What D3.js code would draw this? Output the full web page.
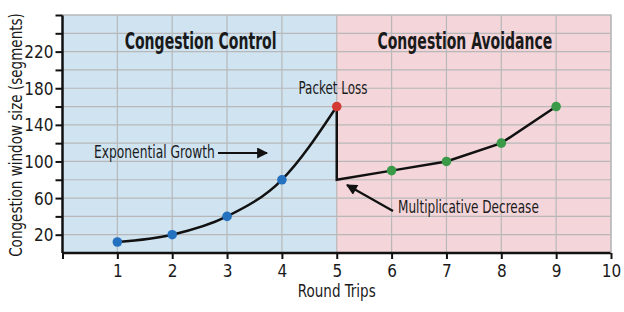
<!DOCTYPE html>
<html>
<head>
<meta charset="utf-8">
<script src="https://cdn.jsdelivr.net/npm/d3@7"></script>
<style>
  body { margin: 0; background: #fff; }
  svg text { font-family: "Liberation Sans Narrow", "DejaVu Sans Condensed", "Roboto", sans-serif; fill: #1a1a1a; }
</style>
</head>
<body>
<svg id="chart" width="624" height="312"></svg>
<script>
// data
var growthTrips = [1, 2, 3, 4, 5];
var growthWindow = [12, 20, 40, 80, 160];
var avoidTrips = [5, 5, 6, 7, 8, 9];
var avoidWindow = [160, 80, 90, 100, 120, 160];
var yTickLabels = [20, 60, 100, 140, 180, 220];
var xTickLabels = [1, 2, 3, 4, 5, 6, 7, 8, 9, 10];
var phases = ['Congestion Control', 'Congestion Avoidance'];
var phaseBounds = [[0, 5], [5, 10]];

var svg = d3.select('#chart');
var margin = { left: 62.5, right: 13, top: 15, bottom: 59 };
var width = 624, height = 312;

var x = d3.scaleLinear().domain([0, 10]).range([margin.left, width - margin.right]);
var y = d3.scaleLinear().domain([0, 260]).range([height - margin.bottom, margin.top]);

// squeeze a text horizontally (the original uses a condensed face)
function label(px, py, str, size, targetW, opts) {
  opts = opts || {};
  var t = svg.append('text')
    .attr('text-anchor', opts.anchor || 'start')
    .style('font-size', size + 'px')
    .style('font-weight', opts.bold ? 'bold' : null)
    .text(str);
  var w = t.node().getComputedTextLength();
  var s = Math.min(1, targetW / w);
  t.attr('transform', 'translate(' + px + ',' + py + ')' + (opts.rotate ? ' rotate(' + opts.rotate + ')' : '') + ' scale(' + s + ',1)');
  return t;
}

// phase backgrounds
var phaseColors = ['#cfe3f1', '#f3d5da'];
svg.selectAll('rect.phase')
  .data(phaseBounds)
  .enter().append('rect')
  .attr('class', 'phase')
  .attr('x', function (d) { return x(d[0]); })
  .attr('y', y(260))
  .attr('width', function (d) { return x(d[1]) - x(d[0]); })
  .attr('height', y(0) - y(260))
  .attr('fill', function (d, i) { return phaseColors[i]; });

// grid
var grid = svg.append('g').attr('stroke', '#b8b8b8').attr('stroke-width', 1.2);
grid.selectAll('line.h')
  .data(d3.range(20, 261, 20))
  .enter().append('line')
  .attr('x1', x(0)).attr('x2', x(10))
  .attr('y1', function (d) { return y(d); })
  .attr('y2', function (d) { return y(d); });
grid.selectAll('line.v')
  .data(d3.range(1, 11))
  .enter().append('line')
  .attr('y1', y(0)).attr('y2', y(260))
  .attr('x1', function (d) { return x(d); })
  .attr('x2', function (d) { return x(d); });

// axes
var yAxis = d3.axisLeft(y)
  .tickValues(d3.range(20, 261, 20))
  .tickSize(7)
  .tickFormat(function (d) { return yTickLabels.indexOf(d) >= 0 ? d : ''; });
var gy = svg.append('g')
  .attr('transform', 'translate(' + x(0) + ',0)')
  .call(yAxis);
gy.select('.domain').attr('stroke', '#111').attr('stroke-width', 2.5).attr('d', 'M0,' + y(260) + 'V' + y(0));
gy.selectAll('.tick line').attr('stroke', '#111').attr('stroke-width', 2);
gy.selectAll('.tick text')
  .attr('x', -9)
  .style('font-size', '17px')
  .attr('dy', '0.36em');

var xAxis = d3.axisBottom(x)
  .tickValues(d3.range(0, 11))
  .tickSize(6)
  .tickFormat(function (d) { return xTickLabels.indexOf(d) >= 0 ? d : ''; });
var gx = svg.append('g')
  .attr('transform', 'translate(0,' + y(0) + ')')
  .call(xAxis);
gx.select('.domain').attr('stroke', '#111').attr('stroke-width', 2.5).attr('d', 'M' + x(0) + ',0H' + x(10));
gx.selectAll('.tick line').attr('stroke', '#111').attr('stroke-width', 2);
gx.selectAll('.tick text')
  .attr('y', 12)
  .attr('dy', '0.71em')
  .style('font-size', '17px');

// axis titles
label(x(5), 297, 'Round Trips', 18, 78, { anchor: 'middle' });
label(22, 135, 'Congestion window size (segments)', 18, 244, { anchor: 'middle', rotate: -90 });

// phase titles
var titleWidths = [152, 175];
var titleShift = [1, -9];
phases.forEach(function (p, i) {
  var cx = (x(phaseBounds[i][0]) + x(phaseBounds[i][1])) / 2 + titleShift[i];
  label(cx, 49, p, 23, titleWidths[i], { anchor: 'middle', bold: true });
});

// lines
var growth = growthTrips.map(function (d, i) { return [d, growthWindow[i]]; });
var avoid = avoidTrips.map(function (d, i) { return [d, avoidWindow[i]]; });

var curve = d3.line()
  .x(function (d) { return x(d[0]); })
  .y(function (d) { return y(d[1]); })
  .curve(d3.curveMonotoneX);
var straight = d3.line()
  .x(function (d) { return x(d[0]); })
  .y(function (d) { return y(d[1]); });

svg.append('path')
  .attr('d', curve(growth))
  .attr('fill', 'none')
  .attr('stroke', '#111')
  .attr('stroke-width', 2.5);
svg.append('path')
  .attr('d', straight(avoid))
  .attr('fill', 'none')
  .attr('stroke', '#111')
  .attr('stroke-width', 2.5);

// points
var blue = growth.slice(0, 4);
var green = avoid.slice(2);
var red = [growth[4]];
function dots(data, color) {
  svg.selectAll(null)
    .data(data)
    .enter().append('circle')
    .attr('cx', function (d) { return x(d[0]); })
    .attr('cy', function (d) { return y(d[1]); })
    .attr('r', 4.8)
    .attr('fill', color);
}
dots(blue, '#2471c0');
dots(green, '#3a9a48');
dots(red, '#d23a33');

// annotations
svg.append('defs').append('marker')
  .attr('id', 'head')
  .attr('viewBox', '0 0 10 10')
  .attr('refX', 9).attr('refY', 5)
  .attr('markerWidth', 5.5).attr('markerHeight', 5)
  .attr('markerUnits', 'strokeWidth')
  .attr('orient', 'auto')
  .append('path')
  .attr('d', 'M0,0L10,5L0,10Z')
  .attr('fill', '#111');

label(333, 94, 'Packet Loss', 17, 69, { anchor: 'middle' });

label(94, 158, 'Exponential Growth', 17, 121);
svg.append('line')
  .attr('x1', 218).attr('y1', 153)
  .attr('x2', 267).attr('y2', 153)
  .attr('stroke', '#111').attr('stroke-width', 2.2)
  .attr('marker-end', 'url(#head)');

label(398, 213, 'Multiplicative Decrease', 17, 141);
svg.append('line')
  .attr('x1', 393).attr('y1', 211)
  .attr('x2', 347).attr('y2', 185)
  .attr('stroke', '#111').attr('stroke-width', 2.2)
  .attr('marker-end', 'url(#head)');

// plot frame (top/right)
svg.append('path')
  .attr('d', 'M' + x(0) + ',' + y(260) + 'H' + x(10) + 'V' + y(0))
  .attr('fill', 'none')
  .attr('stroke', '#b8b8b8')
  .attr('stroke-width', 1.2);
</script>
</body>
</html>
